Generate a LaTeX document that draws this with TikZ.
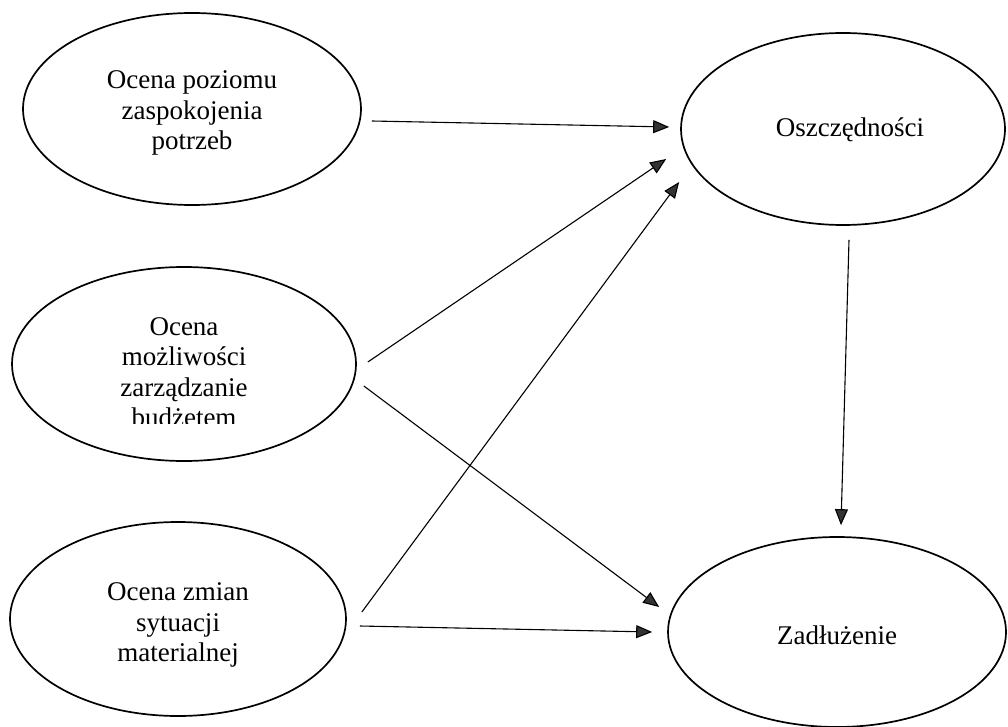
\documentclass[tikz,border=0pt]{standalone}
\usepackage{fontspec}
\setmainfont{Liberation Serif}
\usetikzlibrary{shapes.geometric,arrows.meta,calc}
\begin{document}
\begin{tikzpicture}[x=1pt,y=-1pt,
  oval/.style={draw=black,ellipse,line width=1.7pt,inner sep=0pt},
  txt/.style={align=center,inner sep=0pt,font=\fontsize{27}{30.5}\selectfont},
  conn/.style={line width=1.1pt,draw=black,
    -{Triangle[length=16pt,width=13pt,fill=black!80]}}]
\useasboundingbox (0,0) rectangle (1008,727);
\node[oval,minimum width=338pt,minimum height=192pt,
  label={[txt,yshift=-4pt]center:{Ocena poziomu\\zaspokojenia\\potrzeb}}] (A) at (192,109) {};
\node[oval,minimum width=344pt,minimum height=194pt,
  label={[txt,yshift=-8pt]center:{Ocena\\możliwości\\zarządzanie\\budżetem}}] (B) at (184,364) {};
\node[oval,minimum width=336pt,minimum height=194pt,
  label={[txt,yshift=-6pt]center:{Ocena zmian\\sytuacji\\materialnej}}] (C) at (178,619) {};
\node[oval,minimum width=324pt,minimum height=192pt,
  label={[txt,xshift=7pt,yshift=-1pt]center:{Oszczędności}}] (D) at (843,129) {};
\node[oval,minimum width=338pt,minimum height=190pt,
  label={[txt,yshift=-3pt]center:{Zadłużenie}}] (E) at (837,632) {};
\fill[white] (115,424) rectangle (255,435);
\draw[conn] ($(A.east)+(10,12)$) -- ($(D.west)+(-11,-2)$);
\draw[conn] ($(B.east)+(11,-2)$) -- ($(D.west)+(-14,30)$);
\draw[conn] ($(C.east)+(15,-7)$) -- ($(D.west)+(-1,53)$);
\draw[conn] ($(B.east)+(7,22)$) -- ($(E.west)+(-8,-25)$);
\draw[conn] ($(C.east)+(13,7)$) -- ($(E.west)+(-15,0)$);
\draw[conn] ($(D.south)+(6,14)$) -- ($(E.north)+(4,-11)$);
\end{tikzpicture}
\end{document}
